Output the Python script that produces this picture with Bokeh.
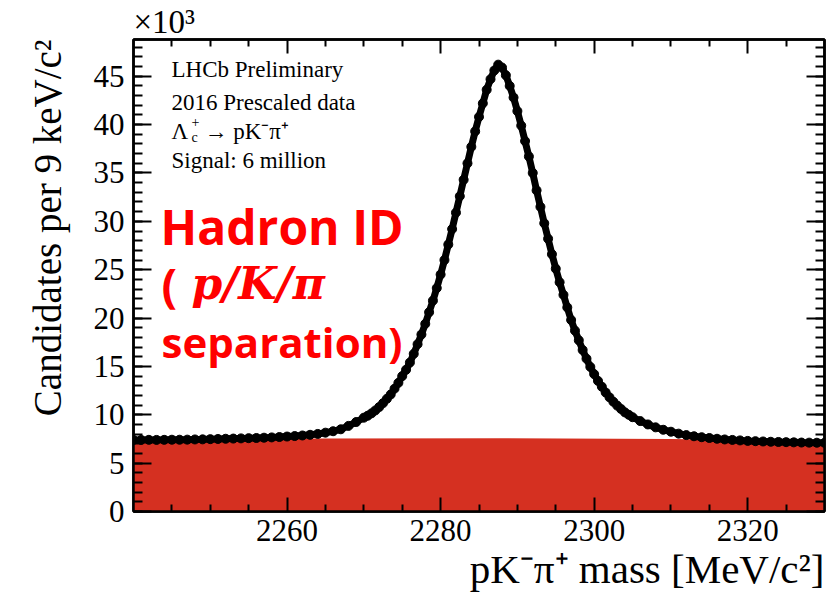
import numpy as np
from bokeh.plotting import figure
from bokeh.models import (Range1d, LinearAxis, FixedTicker, SingleIntervalTicker,
                          Label, Title, CustomJSTickFormatter)
from bokeh.embed import file_html
from bokeh.resources import INLINE

# ---------------- data (counts in units of 10^3 per bin) ----------------
mass = [2240, 2241, 2242, 2243, 2244, 2245, 2246, 2247, 2248, 2249,
        2250, 2251, 2252, 2253, 2254, 2255, 2256, 2257, 2258, 2259,
        2260, 2261, 2262, 2263, 2264, 2265, 2266, 2267, 2268, 2269,
        2270.0, 2270.5, 2271.0, 2271.5, 2272.0, 2272.5, 2273.0, 2273.5,
        2274.0, 2274.5, 2275.0, 2275.5, 2276.0, 2276.5, 2277.0, 2277.5,
        2278.0, 2278.5, 2279.0, 2279.5, 2280.0, 2280.5, 2281.0, 2281.5,
        2282.0, 2282.5, 2283.0, 2283.5, 2284.0, 2284.5, 2285.0, 2285.5,
        2286.0, 2286.5, 2287.0, 2287.5, 2288.0, 2288.5, 2289.0, 2289.5,
        2290.0, 2290.5, 2291.0, 2291.5, 2292.0, 2292.5, 2293.0, 2293.5,
        2294.0, 2294.5, 2295.0, 2295.5, 2296.0, 2296.5, 2297.0, 2297.5,
        2298.0, 2298.5, 2299.0, 2299.5, 2300.0, 2300.5, 2301.0, 2301.5,
        2302.0, 2302.5, 2303.0, 2303.5, 2304.0, 2304.5, 2305.0,
        2306, 2307, 2308, 2309, 2310, 2311, 2312, 2313, 2314, 2315,
        2316, 2317, 2318, 2319, 2320, 2321, 2322, 2323, 2324, 2325,
        2326, 2327, 2328, 2329, 2330]
counts = [7.40, 7.40, 7.41, 7.40, 7.41, 7.42, 7.42, 7.43, 7.45, 7.46,
          7.48, 7.50, 7.52, 7.54, 7.56, 7.58, 7.60, 7.63, 7.66, 7.70,
          7.75, 7.80, 7.86, 7.93, 8.02, 8.15, 8.30, 8.50, 8.85, 9.25,
          9.70, 9.90, 10.15, 10.45, 10.80, 11.20, 11.65, 12.10,
          12.70, 13.30, 14.00, 14.65, 15.40, 16.30, 17.30, 18.30,
          19.40, 20.60, 21.80, 23.10, 24.50, 26.00, 27.60, 29.20,
          30.90, 32.60, 34.30, 36.00, 37.70, 39.30, 40.80, 42.20,
          43.60, 44.70, 45.60, 46.20, 45.90, 45.10, 44.00, 42.80,
          41.40, 39.90, 38.30, 36.70, 35.00, 33.20, 31.50, 29.80,
          28.20, 26.60, 25.10, 23.70, 22.40, 21.10, 19.80, 18.70,
          17.70, 16.70, 15.80, 14.95, 14.20, 13.50, 12.90, 12.30,
          11.80, 11.35, 10.95, 10.60, 10.25, 10.00, 9.75,
          9.35, 9.00, 8.70, 8.45, 8.25, 8.05, 7.90, 7.78, 7.68, 7.60,
          7.52, 7.45, 7.40, 7.35, 7.30, 7.27, 7.24, 7.21, 7.19, 7.17,
          7.15, 7.13, 7.12, 7.11, 7.10]

bkg_mass = [2240, 2265, 2288, 2310, 2330]
bkg_counts = [7.45, 7.55, 7.57, 7.50, 7.30]

x_major = [2260, 2280, 2300, 2320]
x_minor = [2245, 2250, 2255, 2265, 2270, 2275, 2285, 2290, 2295,
           2305, 2310, 2315, 2325]

info_lines = ["LHCb Preliminary", "2016 Prescaled data", "Signal: 6 million"]

# ---------------- layout ----------------
X0, X1 = 2240, 2330
Y0, Y1 = 0, 48.8
FL, FT, FW, FH = 133, 39, 691, 472


def dx(px):
    return X0 + (px - FL) / FW * (X1 - X0)


def dy(py, size=0):
    # py is the wanted baseline in pixels; correct for label box offset
    py = py - 0.4 * size
    return Y0 + (FT + FH - py) / FH * (Y1 - Y0)


p = figure(frame_width=FW, frame_height=FH,
           x_range=Range1d(X0, X1), y_range=Range1d(Y0, Y1),
           output_backend="svg", toolbar_location=None,
           min_border_left=FL, min_border_right=8,
           min_border_top=FT, min_border_bottom=90)
p.xgrid.visible = False
p.ygrid.visible = False
p.outline_line_color = "black"
p.outline_line_width = 2.5
p.background_fill_color = "white"
p.border_fill_color = "white"

SERIF = "Liberation Serif"

xt = FixedTicker(ticks=x_major, minor_ticks=x_minor)
yt = SingleIntervalTicker(interval=5, num_minor_ticks=5)


def style(ax, tin, tmin, labels=True):
    ax.major_tick_in = tin
    ax.major_tick_out = 0
    ax.minor_tick_in = tmin
    ax.minor_tick_out = 0
    ax.axis_line_width = 2.5
    ax.axis_line_color = "black"
    ax.major_tick_line_width = 2
    ax.minor_tick_line_width = 2
    ax.major_tick_line_color = "black"
    ax.minor_tick_line_color = "black"
    if labels:
        ax.major_label_text_font = SERIF
        ax.major_label_text_font_size = "31px"
        ax.major_label_text_color = "black"
        ax.major_label_standoff = 8
    else:
        ax.formatter = CustomJSTickFormatter(code="return ''")
        ax.major_label_text_font_size = "1px"
        ax.major_label_standoff = 0


xa = p.xaxis[0]
xa.ticker = xt
style(xa, 14, 7)
ya = p.yaxis[0]
ya.ticker = yt
style(ya, 18, 9)
ya.major_label_standoff = 9

top = LinearAxis(ticker=xt)
style(top, 14, 7, labels=False)
p.add_layout(top, "above")
right = LinearAxis(ticker=yt)
style(right, 18, 9, labels=False)
p.add_layout(right, "right")

# axis titles and exponent as side titles (outside the frame)
p.add_layout(Title(text="pK⁻π⁺ mass [MeV/c²]", align="right",
                   text_font=SERIF, text_font_size="41px",
                   text_font_style="normal", text_color="black",
                   standoff=0, offset=0), "below")
p.add_layout(Title(text="Candidates per 9 keV/c²", align="right",
                   text_font=SERIF, text_font_size="39px",
                   text_font_style="normal", text_color="black",
                   standoff=44, offset=0), "left")
p.add_layout(Title(text="×10³", align="left",
                   text_font=SERIF, text_font_size="33px",
                   text_font_style="normal", text_color="black",
                   standoff=0, offset=0), "above")

# ---------------- glyphs ----------------
p.varea(x=bkg_mass, y1=[0] * len(bkg_mass), y2=bkg_counts,
        fill_color="#d53021", fill_alpha=1.0)
p.line(mass, counts, line_color="black", line_width=7)
p.scatter(mass, counts, marker="circle", size=9,
          fill_color="black", line_color="black")

# ---------------- texts ----------------
for txt, base in zip(info_lines, [78, 111, 169]):
    p.add_layout(Label(x=dx(171), y=dy(base, 23), text=txt,
                       text_baseline="alphabetic", text_font=SERIF,
                       text_font_size="23px", text_color="black"))
p.add_layout(Label(x=dx(171), y=dy(140, 23), text="Λ", text_baseline="alphabetic",
                   text_font=SERIF, text_font_size="23px", text_color="black"))
p.add_layout(Label(x=dx(191), y=dy(127, 14), text="+", text_baseline="alphabetic",
                   text_font=SERIF, text_font_size="14px", text_color="black"))
p.add_layout(Label(x=dx(191), y=dy(143, 14), text="c", text_baseline="alphabetic",
                   text_font=SERIF, text_font_size="14px", text_color="black"))
p.add_layout(Label(x=dx(204), y=dy(140, 23), text="→ pK⁻π⁺",
                   text_baseline="alphabetic", text_font=SERIF,
                   text_font_size="23px", text_color="black"))

RED = "#ff0000"
p.add_layout(Label(x=dx(160), y=dy(245, 48), text="Hadron ID",
                   text_baseline="alphabetic", text_font="Open Sans",
                   text_font_style="bold", text_font_size="48px",
                   text_color=RED))
p.add_layout(Label(x=dx(161), y=dy(302, 46), text="(",
                   text_baseline="alphabetic", text_font="Open Sans",
                   text_font_style="bold", text_font_size="46px",
                   text_color=RED))
p.add_layout(Label(x=dx(191), y=dy(301, 44), text="p/K/π",
                   text_baseline="alphabetic", text_font="DejaVu Serif",
                   text_font_style="bold italic", text_font_size="44px",
                   text_color=RED))
p.add_layout(Label(x=dx(161), y=dy(358, 42), text="separation)",
                   text_baseline="alphabetic", text_font="Open Sans",
                   text_font_style="bold", text_font_size="42px",
                   text_color=RED))

open("out.html", "w").write(file_html(p, INLINE))
